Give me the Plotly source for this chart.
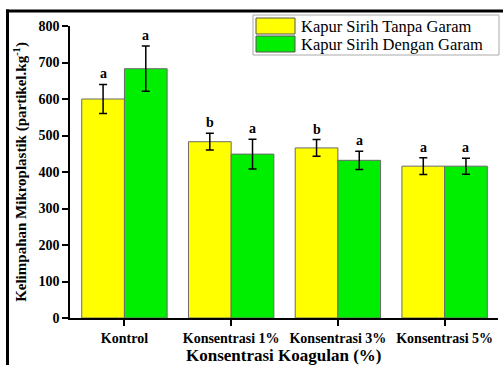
import plotly.graph_objects as go

# Microplastic abundance by coagulant concentration
categories = ["Kontrol", "Konsentrasi 1%", "Konsentrasi 3%", "Konsentrasi 5%"]
series_names = ["Kapur Sirih Tanpa Garam", "Kapur Sirih Dengan Garam"]
tanpa_garam = [600, 483, 466, 416]
tanpa_garam_err = [40, 23, 23, 23]
dengan_garam = [683, 449, 432, 416]
dengan_garam_err = [62, 41, 25, 22]
tanpa_letters = ["a", "b", "b", "a"]
dengan_letters = ["a", "a", "a", "a"]
y_ticks = [0, 100, 200, 300, 400, 500, 600, 700, 800]

colors = ["#FFFF00", "#00EE00"]
W, H = 503, 365
ML, MR, MT, MB = 70, 5, 26, 47
PW, PH = W - ML - MR, H - MT - MB
SERIF = "Liberation Serif"


def px(x):
    return (x - ML) / PW


def py(y):
    return (H - MB - y) / PH


fig = go.Figure()
for name, vals, errs, col in [
    (series_names[0], tanpa_garam, tanpa_garam_err, colors[0]),
    (series_names[1], dengan_garam, dengan_garam_err, colors[1]),
]:
    fig.add_trace(go.Bar(
        x=categories, y=vals, name=name,
        marker=dict(color=col, line=dict(color="#6a6a6a", width=1)),
        error_y=dict(type="data", array=errs, color="black", thickness=1.5, width=4),
        showlegend=False,
    ))

# significance letters above the error bars
annotations = []
for i, cat in enumerate(categories):
    for k, (vals, errs, letters) in enumerate([
        (tanpa_garam, tanpa_garam_err, tanpa_letters),
        (dengan_garam, dengan_garam_err, dengan_letters),
    ]):
        annotations.append(dict(
            x=i + (-0.2 if k == 0 else 0.2), y=vals[i] + errs[i],
            xref="x", yref="y", text=f"<b>{letters[i]}</b>",
            showarrow=False, yanchor="bottom", yshift=1,
            font=dict(family=SERIF, size=14, color="black"),
        ))

# outer frame: left and top edges
shapes = [
    dict(type="line", xref="paper", yref="paper",
         x0=px(7.5), x1=px(7.5), y0=py(380), y1=py(9.5),
         line=dict(color="black", width=3)),
    dict(type="line", xref="paper", yref="paper",
         x0=px(6), x1=px(515), y0=py(11), y1=py(11),
         line=dict(color="black", width=3)),
    # legend box
    dict(type="rect", xref="paper", yref="paper",
         x0=px(253), x1=px(499), y0=py(55), y1=py(15),
         line=dict(color="#aaaaaa", width=1), fillcolor="white"),
]
for k, (name, col) in enumerate(zip(series_names, colors)):
    top = 18 + k * 18
    shapes.append(dict(type="rect", xref="paper", yref="paper",
                       x0=px(256), x1=px(295), y0=py(top + 16), y1=py(top),
                       line=dict(color="#555555", width=1), fillcolor=col))
    annotations.append(dict(x=px(299), y=py(top + 8), xref="paper", yref="paper",
                            text=name, showarrow=False, xanchor="left", yanchor="middle",
                            font=dict(family=SERIF, size=16.5, color="black")))

# x-axis title placed as text so the plot area keeps its size
annotations.append(dict(x=0.5, y=py(355), xref="paper", yref="paper",
                        text="<b>Konsentrasi Koagulan (%)</b>", showarrow=False,
                        xanchor="center", yanchor="middle",
                        font=dict(family=SERIF, size=17, color="black")))

fig.update_layout(
    width=W, height=H,
    margin=dict(l=ML, r=MR, t=MT, b=MB, autoexpand=False),
    paper_bgcolor="white", plot_bgcolor="white",
    barmode="group", bargap=0.2, bargroupgap=0,
    font=dict(family=SERIF, color="black"),
    shapes=shapes, annotations=annotations,
    xaxis=dict(
        range=[-0.51, 3.5], showline=True, linecolor="black", linewidth=1.5,
        ticks="outside", ticklen=6, tickwidth=1.5, tickcolor="black",
        tickfont=dict(family=SERIF, size=14, color="black", weight="bold"),
        showgrid=False, zeroline=False, automargin=False,
    ),
    yaxis=dict(
        range=[0, 800], tickvals=y_ticks, showline=True, linecolor="black", linewidth=1.5,
        ticks="outside", ticklen=6, tickwidth=1.5, tickcolor="black",
        tickfont=dict(family=SERIF, size=14, color="black", weight="bold"),
        title=dict(text="<b>Kelimpahan Mikroplastik (partikel.kg<sup>-1</sup>)</b>", standoff=8,
                   font=dict(family=SERIF, size=15, color="black")),
        showgrid=False, zeroline=False, automargin=False,
    ),
)

fig.write_html("out.html", config={"displayModeBar": False})
